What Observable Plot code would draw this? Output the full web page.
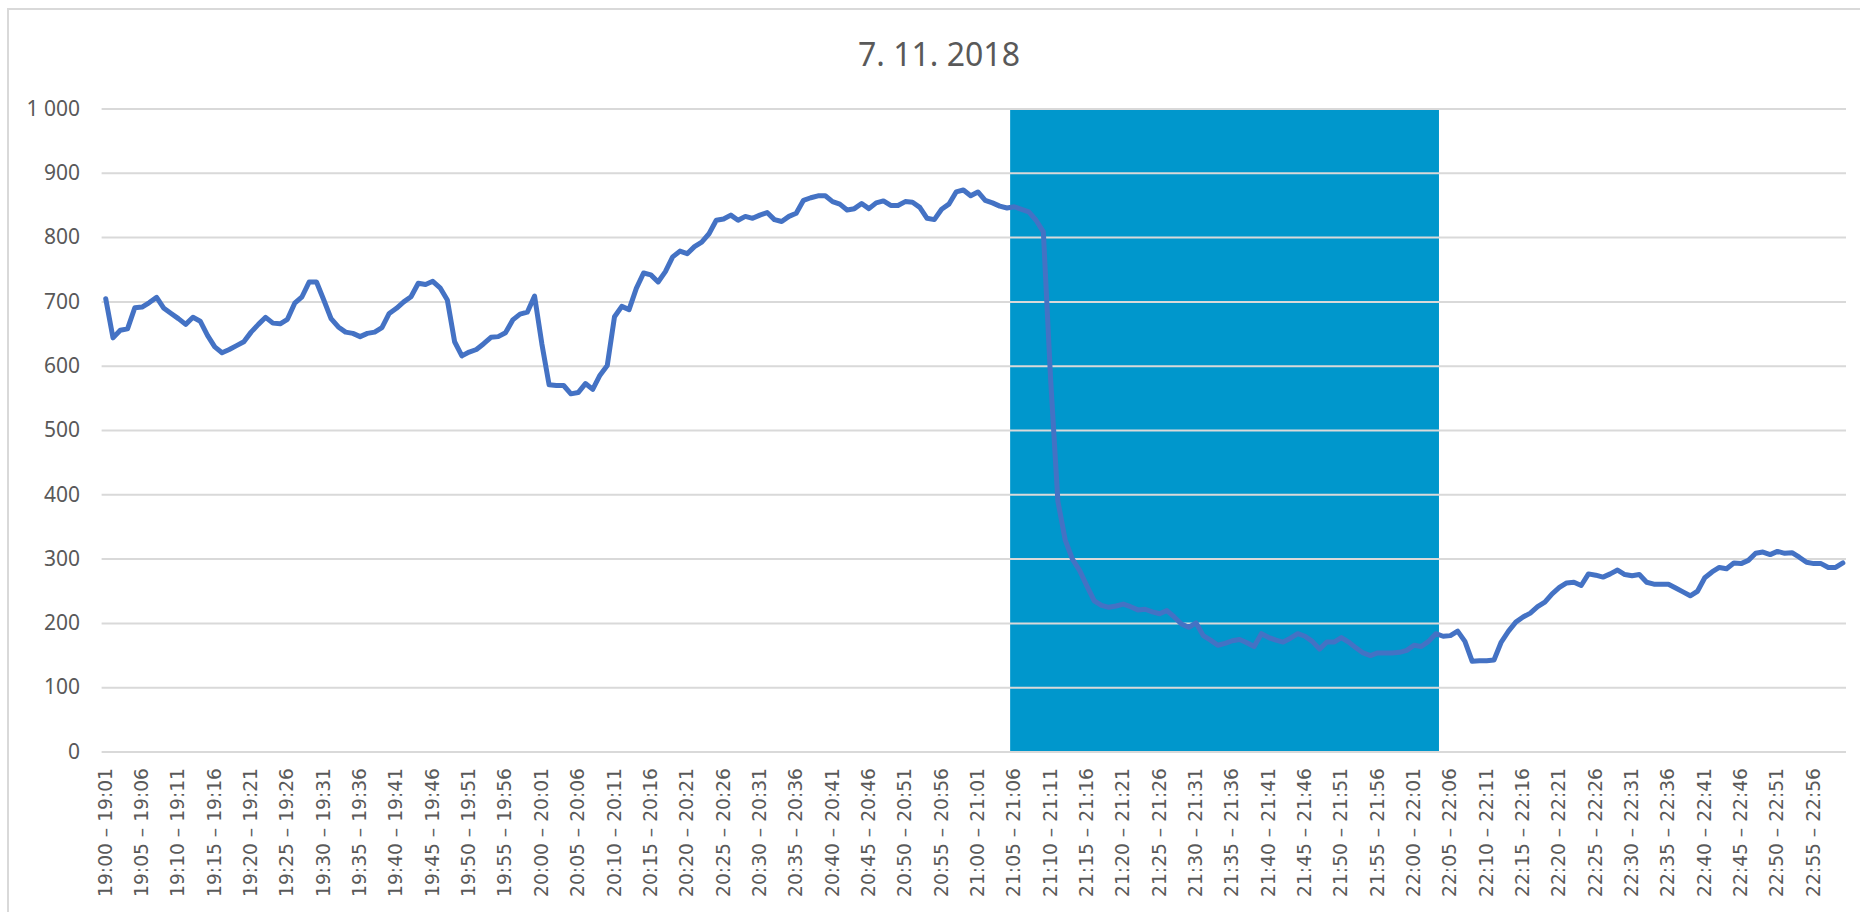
<!DOCTYPE html>
<html>
<head>
<meta charset="utf-8">
<script src="https://cdn.jsdelivr.net/npm/d3@7"></script>
<script src="https://cdn.jsdelivr.net/npm/@observablehq/plot@0.6"></script>
<style>
  body { margin: 0; background: #fff; overflow: hidden; width: 1860px; height: 912px; position: relative; }
  #frame { position: absolute; left: 7px; top: 8px; width: 1900px; height: 1000px; border: 2px solid #d9d9d9; box-sizing: border-box; pointer-events: none; }
  #title { height: 80px; line-height: 108px; text-align: center; padding-left: 18px; font-family: "Noto Sans"; font-size: 32px; color: #595959; white-space: nowrap; }
  #chart svg { display: block; }
</style>
</head>
<body>
<div id="frame"></div>
<div id="title">7. 11. 2018</div>
<div id="chart"></div>
<script>
// Category labels: one per minute, 19:00 – 19:01 ... 22:59 – 23:00
const pad = n => String(n).padStart(2, "0");
const categories = [];
for (let h = 19; h <= 22; h++) {
  for (let m = 0; m < 60; m++) {
    const h2 = m === 59 ? h + 1 : h;
    const m2 = (m + 1) % 60;
    categories.push(`${h}:${pad(m)} – ${h2}:${pad(m2)}`);
  }
}

// Series values (one per minute)
const values = [
  705, 644, 656, 658, 691, 692, 699, 707, 690, 682,
  674, 665, 676, 670, 648, 630, 621, 626, 632, 638,
  653, 665, 676, 667, 666, 673, 698, 708, 731, 731,
  703, 674, 661, 653, 651, 646, 651, 653, 660, 682,
  690, 700, 708, 729, 727, 732, 722, 703, 638, 616,
  622, 626, 635, 645, 646, 652, 672, 681, 684, 709,
  635, 571, 570, 570, 557, 559, 573, 564, 586, 601,
  677, 693, 688, 721, 745, 742, 731, 747, 770, 779,
  775, 786, 793, 806, 827, 829, 835, 827, 833, 830,
  835, 839, 828, 825, 833, 838, 858, 862, 865, 865,
  856, 852, 843, 845, 853, 845, 854, 857, 850, 850,
  856, 855, 847, 830, 828, 844, 852, 871, 874, 865,
  871, 858, 854, 849, 846, 848, 844, 840, 827, 809,
  580, 390, 330, 300, 282, 258, 235, 228, 225, 227,
  230, 226, 221, 222, 218, 215, 220, 210, 199, 194,
  201, 181, 174, 166, 169, 173, 175, 170, 164, 184,
  178, 174, 171, 177, 184, 180, 172, 160, 171, 171,
  178, 171, 162, 154, 150, 154, 154, 154, 155, 158,
  166, 164, 172, 184, 180, 181, 188, 172, 141, 142,
  142, 143, 171, 188, 202, 210, 216, 226, 233, 246,
  256, 263, 264, 259, 277, 275, 272, 277, 283, 276,
  274, 276, 264, 261, 261, 261, 255, 249, 243, 250,
  271, 280, 287, 285, 294, 293, 298, 309, 311, 307,
  312, 309, 310, 303, 295, 293, 293, 287, 287, 294
];

// Highlighted period (first and last category covered)
const bandFrom = "21:05 – 21:06";
const bandTo = "22:03 – 22:04";

// Axis ticks
const yTicks = [0, 100, 200, 300, 400, 500, 600, 700, 800, 900, 1000];
const xTickLabels = categories.filter((c, i) => i % 5 === 0);

const data = values.map((v, i) => ({i, v, cat: categories[i]}));
const band = [{x1: categories.indexOf(bandFrom) - 0.5, x2: categories.indexOf(bandTo) + 0.5, top: 1000, bottom: 0}];
const xTickIdx = xTickLabels.map(c => categories.indexOf(c));
const fmt = d3.formatLocale({decimal: ",", thousands: " ", grouping: [3], currency: ["", ""]}).format(",");

const chart = Plot.plot({
  width: 1860,
  height: 832,
  marginTop: 28.5,
  marginBottom: 160.5,
  marginLeft: 101.6,
  marginRight: 14,
  style: {background: "white", overflow: "visible"},
  x: {domain: [-0.5, categories.length - 0.5]},
  y: {domain: [0, 1000]},
  marks: [
    Plot.rect(band, {x1: "x1", x2: "x2", y1: "bottom", y2: "top", fill: "#0097CC"}),
    Plot.ruleY(yTicks, {stroke: "#d9d9d9", strokeWidth: 2}),
    Plot.line(data, {x: "i", y: "v", stroke: "#4472C4", strokeWidth: 5, strokeLinejoin: "round", strokeLinecap: "round"}),
    Plot.axisY({ticks: yTicks, tickFormat: fmt, tickSize: 0, tickPadding: 22, fontSize: 21, fontFamily: "Noto Sans", color: "#595959", label: null}),
    Plot.axisX({ticks: xTickIdx, tickFormat: i => categories[i], tickRotate: -90, tickSize: 0, tickPadding: 16, fontSize: 18.7, fontFamily: "DejaVu Sans", color: "#595959", label: null})
  ]
});
document.getElementById("chart").appendChild(chart);
</script>
</body>
</html>
